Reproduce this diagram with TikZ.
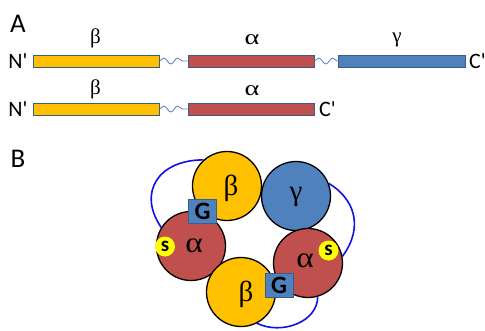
\documentclass[tikz,border=0pt]{standalone}
\usepackage{fontspec}
\setmainfont{Carlito}
\newfontfamily\greekfont{Liberation Serif}
\usetikzlibrary{decorations.pathmorphing}
\definecolor{cgold}{HTML}{FFC000}
\definecolor{cred}{HTML}{C0504D}
\definecolor{cblue}{HTML}{4F81BD}
\definecolor{cedge}{HTML}{385D8A}
\definecolor{cloop}{HTML}{1010E8}
\definecolor{csmall}{HTML}{FFFF00}
\newcommand{\widealpha}[1]{\scalebox{#1}[1]{α}}
\begin{document}
\begin{tikzpicture}[x=1pt,y=-1pt,
  bar/.style={rectangle,draw=cedge,line width=0.8pt,minimum height=12pt,inner sep=0pt},
  linker/.style={draw=cblue,line width=0.8pt,decorate,decoration={snake,amplitude=3pt,segment length=14pt}},
  panel/.style={inner sep=0pt,font=\fontsize{27}{30}\selectfont},
  term/.style={inner sep=0pt,font=\fontsize{22}{24}\selectfont},
  lab/.style={inner sep=0pt,font=\fontsize{21}{24}\selectfont\greekfont},
  sub/.style={circle,draw=black,line width=1.3pt,inner sep=0pt,minimum size=69pt},
  sublab/.style={inner sep=0pt,font=\fontsize{29}{32}\selectfont\greekfont},
  gbox/.style={rectangle,fill=cblue,draw=cedge,line width=0.8pt,minimum width=28pt,minimum height=24pt,inner sep=0pt,font=\fontsize{25}{28}\selectfont\bfseries},
  sbox/.style={circle,fill=csmall,inner sep=0pt,minimum size=20pt,font=\fontsize{21}{24}\selectfont\bfseries},
  loop/.style={draw=cloop,line width=1.6pt}]
\useasboundingbox (0,0) rectangle (485,330);
% panel A
\node[panel] (pA) at (18,24) {A};
\node[term] (n1) at (18,61) {N\textquotesingle};
\node[bar,fill=cgold,minimum width=126pt] (b1) at (96,61) {};
\node[bar,fill=cred,minimum width=126pt] (a1) at (251,61) {};
\node[bar,fill=cblue,minimum width=127pt] (g1) at (401.5,61) {};
\node[term,anchor=west] (c1) at (469,61) {C\textquotesingle};
\draw[linker] (b1.east) -- (a1.west);
\draw[linker] (a1.east) -- (g1.west);
\node[lab] (lb1) at (95.5,38) {β};
\node[lab] (la1) at (252,40) {\widealpha{1.35}};
\node[lab] (lg1) at (397,40) {γ};
\node[term] (n2) at (18,109) {N\textquotesingle};
\node[bar,fill=cgold,minimum width=126pt] (b2) at (96,109) {};
\node[bar,fill=cred,minimum width=126pt] (a2) at (251,109) {};
\node[term,anchor=west] (c2) at (319,109) {C\textquotesingle};
\draw[linker] (b2.east) -- (a2.west);
\node[lab] (lb2) at (95.5,89) {β};
\node[lab] (la2) at (252,91) {\widealpha{1.35}};
% panel B
\node[panel] (pB) at (18,159) {B};
\coordinate (bTc) at (227,186);
\coordinate (gc) at (296,196);
\coordinate (aLc) at (191,246);
\coordinate (aRc) at (308,263);
\coordinate (bBc) at (241,292);
% loops (behind)
\node[sub,draw=none,fill=none] (bT0) at (bTc) {};
\node[sub,draw=none,fill=none] (g0) at (gc) {};
\node[sub,draw=none,fill=none] (aL0) at (aLc) {};
\node[sub,draw=none,fill=none] (aR0) at (aRc) {};
\node[sub,draw=none,fill=none] (bB0) at (bBc) {};
\draw[loop] (bT0.132) .. controls +(-45,0) and +(-24,-35) .. (aL0.148);
\draw[loop] (g0.21) .. controls +(25,15) and +(22,-30) .. (aR0.11);
\draw[loop] (aR0.286) .. controls +(0,25) and +(25,12) .. (bB0.297);
% subunits
\node[sub,fill=cred] (aL) at (aLc) {};
\node[sub,fill=cgold] (bT) at (bTc) {};
\node[sub,fill=cblue] (g) at (gc) {};
\node[sub,fill=cred] (aR) at (aRc) {};
\node[sub,fill=cgold] (bB) at (bBc) {};
\node[sublab] (tbT) at (231,188) {β};
\node[sublab] (tg) at (296,197) {γ};
\node[sublab] (taL) at (194,246) {\widealpha{1.15}};
\node[sublab] (taR) at (305,261) {\widealpha{1.15}};
\node[sublab] (tbB) at (246,294) {β};
\node[gbox] (G1) at (202.5,211) {G};
\node[gbox] (G2) at (279,285.5) {G};
\node[sbox] (S1) at (165,246.5) {s};
\node[sbox] (S2) at (328.5,250.5) {s};
\end{tikzpicture}
\end{document}
